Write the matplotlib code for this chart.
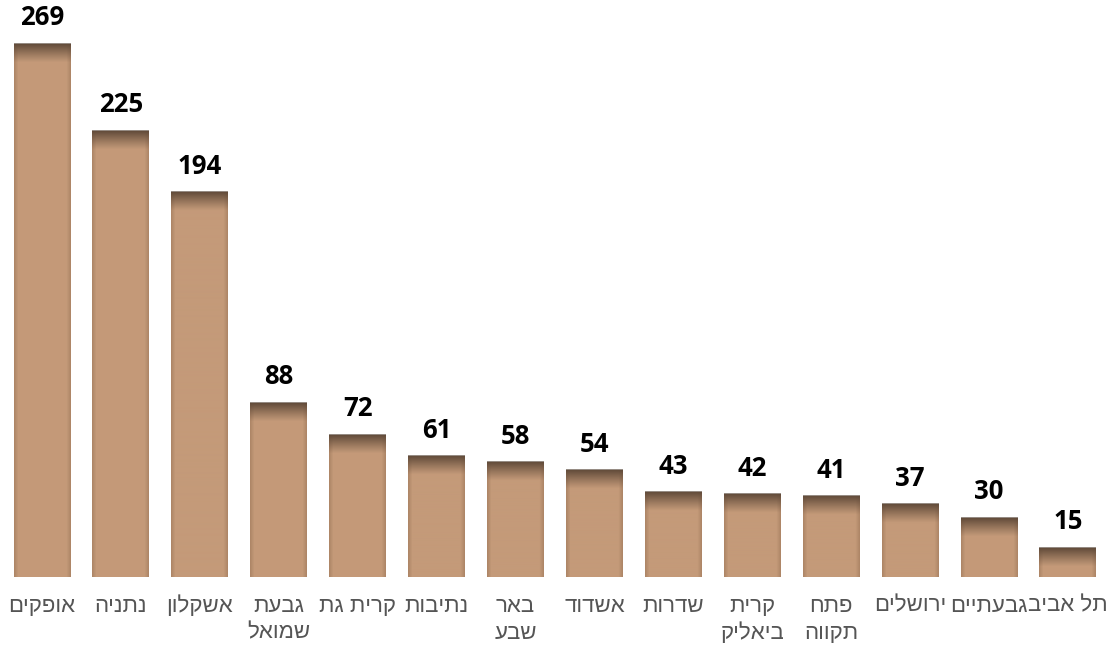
import numpy as np
import matplotlib
matplotlib.use('Agg')
import matplotlib.pyplot as plt

# data
cities = ['אופקים', 'נתניה', 'אשקלון', 'גבעת\nשמואל', 'קרית גת', 'נתיבות', 'באר\nשבע',
          'אשדוד', 'שדרות', 'קרית\nביאליק', 'פתח\nתקווה', 'ירושלים', 'גבעתיים', 'תל אביב']
counts = [269, 225, 194, 88, 72, 61, 58, 54, 43, 42, 41, 37, 30, 15]

base = np.array([196, 154, 121]) / 255.
dark = np.array([95, 73, 56]) / 255.
edge = np.array([165, 126, 96]) / 255.

fig = plt.figure(figsize=(11.14, 6.49), dpi=100)
ax = fig.add_axes([0.00228, 0.1109, 0.9918, 0.887])
ymax = 290
ax.set_xlim(-0.5, len(counts) - 0.5)
ax.set_ylim(0, ymax)
for s in ax.spines.values():
    s.set_visible(False)
ax.set_xticks([])
ax.set_yticks([])

px_per_unit = 0.887 * 649 / ymax
width = 0.722
bar_px = 57

x = np.arange(len(counts))
bars = ax.bar(x, counts, width=width, color=base, zorder=1)

for xi, h in zip(x, counts):
    hp = int(round(h * px_per_unit))
    rows = np.arange(hp)[:, None]
    cols = np.arange(bar_px)[None, :]
    # shade near the top
    t = np.clip(1 - rows / 19.0, 0, 1) ** 1.1
    # side shade
    d = np.minimum(cols, bar_px - 1 - cols)
    e = np.clip(1 - d / 4.0, 0, 1) * 0.7
    img = base[None, None, :] * np.ones((hp, bar_px, 3))
    img = img * (1 - e[..., None]) + edge[None, None, :] * e[..., None]
    img = img * (1 - t[..., None]) + dark[None, None, :] * t[..., None]
    img[0, :, :] = np.array([150, 140, 132]) / 255.
    ax.imshow(img, extent=[xi - width / 2, xi + width / 2, 0, h], aspect='auto',
              interpolation='bilinear', zorder=2)
    ax.annotate(str(h), (xi, h), xytext=(0, 13.0), textcoords='offset points',
                ha='center', va='baseline', fontsize=18.5, fontweight='bold',
                family=['Open Sans', 'DejaVu Sans'], color='black')

# hebrew labels: matplotlib draws left-to-right, so each line is flipped
line_y = [-29 / px_per_unit, -56 / px_per_unit]
for xi, name in zip(x, cities):
    for k, line in enumerate(name.split('\n')):
        ax.text(xi, line_y[k], line[::-1], ha='center', va='center',
                fontsize=16, color='#555555', family=['Liberation Sans', 'DejaVu Sans'],
                clip_on=False)

fig.savefig('out.png', dpi=100)
